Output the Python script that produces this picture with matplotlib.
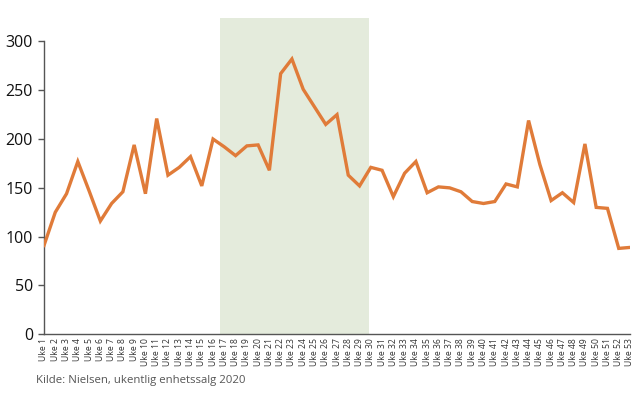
import matplotlib
matplotlib.use("Agg")
import matplotlib.pyplot as plt

weeks = [f"Uke {i}" for i in range(1, 54)]
values = [91, 125, 144, 177, 147, 116, 134, 146, 194, 144,
          221, 163, 171, 182, 152, 200, 192, 183, 193, 194,
          168, 267, 282, 251, 233, 215, 225, 163, 152, 171,
          168, 141, 165, 177, 145, 151, 150, 146, 136, 134,
          136, 154, 151, 219, 174, 137, 145, 135, 195, 130,
          129, 88, 89]
shade_start, shade_end = 16.65, 29.85
yticks = [0, 50, 100, 150, 200, 250, 300]
source = "Kilde: Nielsen, ukentlig enhetssalg 2020"

plt.rcParams['font.family'] = ['Open Sans', 'DejaVu Sans']

fig = plt.figure(figsize=(6.42, 3.93), dpi=100)
ax = fig.add_axes([44/642, 1 - 334.3/393, 586/642, (334.3 - 18)/393])

x = list(range(1, len(values) + 1))
ax.axvspan(shade_start, shade_end, color="#E4EBDC", lw=0, zorder=0)
ax.plot(x, values, color="#E07B39", lw=2.4, solid_joinstyle="miter", zorder=3)

ax.set_xlim(1, 53)
ax.set_ylim(0, 324)
ax.set_yticks(yticks)
ax.set_yticklabels([str(v) for v in yticks], fontsize=11.5, color="#111111")
ax.set_xticks(x)
ax.set_xticklabels(weeks, rotation=90, fontsize=6.2, color="#333333")

for s in ["top", "right"]:
    ax.spines[s].set_visible(False)
for s in ["left", "bottom"]:
    ax.spines[s].set_color("#555555")
    ax.spines[s].set_linewidth(1.0)
ax.spines["left"].set_bounds(0, 300)
ax.tick_params(axis="y", length=4, color="#555555", width=1, pad=4)
ax.tick_params(axis="x", length=0, pad=3)

fig.text(36/642, 1 - 381/393, source, fontsize=8.2, color="#555555", va="center", ha="left")

fig.savefig("out.png", dpi=100)
